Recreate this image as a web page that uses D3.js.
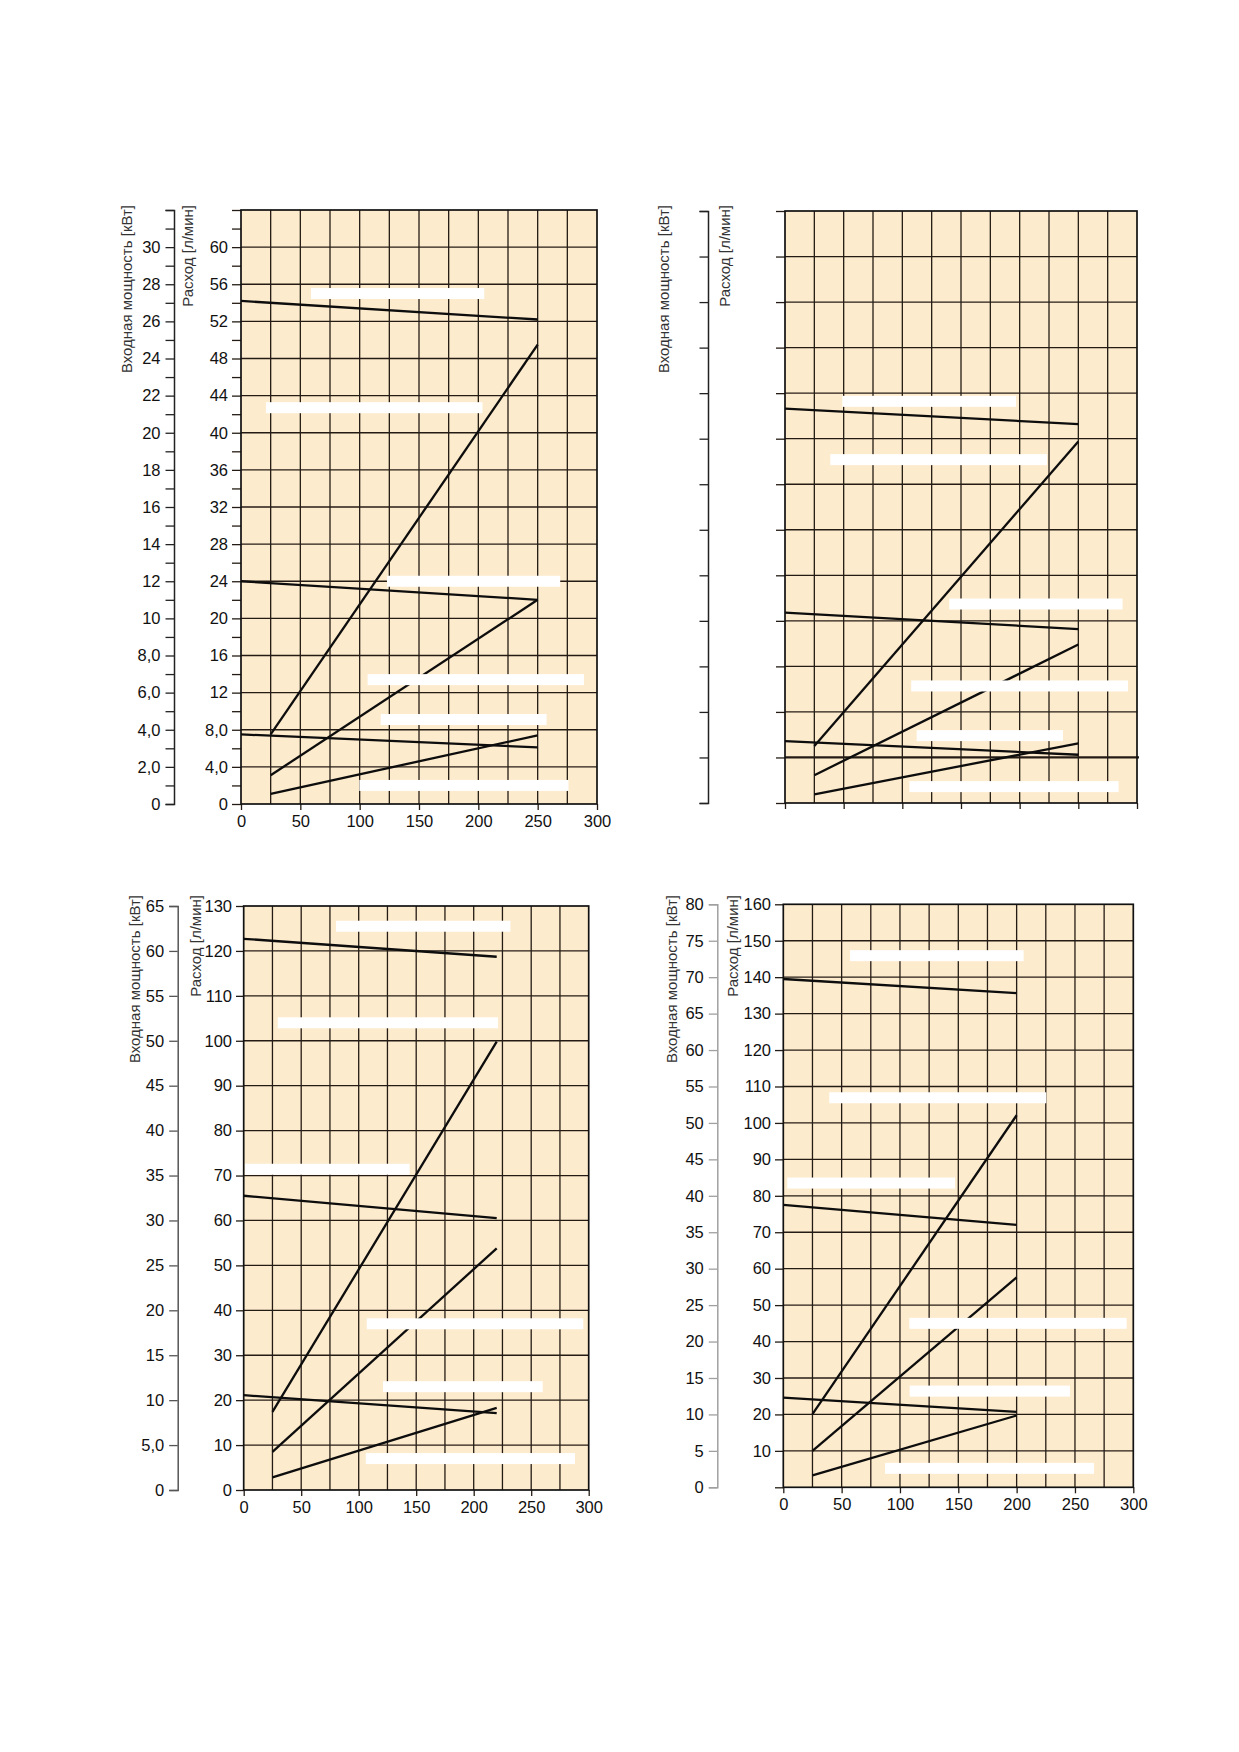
<!DOCTYPE html>
<html>
<head>
<meta charset="utf-8">
<script src="https://cdn.jsdelivr.net/npm/d3@7"></script>
<style>
  html, body { margin: 0; padding: 0; background: #fff; }
  svg { display: block; font-family: "Liberation Sans", Arial, Helvetica, sans-serif; }
</style>
</head>
<body>
<div id="chart"></div>
<script>
// x axis (shared): pressure / speed scale
const xTicks = [0, 50, 100, 150, 200, 250, 300];
const xTickLabels = ["0", "50", "100", "150", "200", "250", "300"];

// panel 1 (top left)
const flowLabelValues1 = [0, 4, 8, 12, 16, 20, 24, 28, 32, 36, 40, 44, 48, 52, 56, 60];
const flowLabels1 = ["0", "4,0", "8,0", "12", "16", "20", "24", "28", "32", "36", "40", "44", "48", "52", "56", "60"];
const powerLabelValues1 = [0, 2, 4, 6, 8, 10, 12, 14, 16, 18, 20, 22, 24, 26, 28, 30];
const powerLabels1 = ["0", "2,0", "4,0", "6,0", "8,0", "10", "12", "14", "16", "18", "20", "22", "24", "26", "28", "30"];
const lines1 = [
  { x: [0, 250], y: [54.2, 52.2] },
  { x: [25, 250], y: [7.5, 49.5] },
  { x: [0, 250], y: [24.0, 22.0] },
  { x: [25, 250], y: [3.1, 22.0] },
  { x: [0, 250], y: [7.5, 6.1] },
  { x: [25, 250], y: [1.1, 7.4] },
];
const masks1 = [
  { x0: 59, x1: 205, y: 55.0 },
  { x0: 21, x1: 203.5, y: 42.7 },
  { x0: 123, x1: 269, y: 24.0 },
  { x0: 106.7, x1: 289, y: 13.4 },
  { x0: 117.7, x1: 257.5, y: 9.1 },
  { x0: 99.7, x1: 276, y: 2.0 },
];

// panel 2 (top right, unlabelled scales)
const lines2 = [
  { x: [0, 250], y: [86.6, 83.2] },
  { x: [25, 250], y: [12.5, 79.4] },
  { x: [0, 250], y: [41.8, 38.2] },
  { x: [25, 250], y: [6.1, 34.8] },
  { x: [0, 250], y: [13.6, 10.6] },
  { x: [25, 250], y: [1.9, 13.1] },
];
const masks2 = [
  { x0: 48.8, x1: 196.9, y: 88.2 },
  { x0: 38.6, x1: 223.3, y: 75.4 },
  { x0: 140, x1: 287.7, y: 43.7 },
  { x0: 107.6, x1: 292.3, y: 25.7 },
  { x0: 112.2, x1: 236.9, y: 14.8 },
  { x0: 106, x1: 284.3, y: 3.6 },
];

// panel 3 (bottom left)
const flowLabelValues3 = [0, 10, 20, 30, 40, 50, 60, 70, 80, 90, 100, 110, 120, 130];
const flowLabels3 = ["0", "10", "20", "30", "40", "50", "60", "70", "80", "90", "100", "110", "120", "130"];
const powerLabelValues3 = [0, 5, 10, 15, 20, 25, 30, 35, 40, 45, 50, 55, 60, 65];
const powerLabels3 = ["0", "5,0", "10", "15", "20", "25", "30", "35", "40", "45", "50", "55", "60", "65"];
const lines3 = [
  { x: [0, 220], y: [122.7, 118.7] },
  { x: [25, 220], y: [17.4, 99.8] },
  { x: [0, 220], y: [65.5, 60.5] },
  { x: [25, 220], y: [8.5, 53.8] },
  { x: [0, 220], y: [21.1, 17.1] },
  { x: [25, 220], y: [2.8, 18.3] },
];
const masks3 = [
  { x0: 80.3, x1: 231.9, y: 125.5 },
  { x0: 29.6, x1: 221.1, y: 104.0 },
  { x0: 1.1, x1: 144.3, y: 71.4 },
  { x0: 107, x1: 295.3, y: 37.0 },
  { x0: 121.1, x1: 260, y: 23.0 },
  { x0: 106.1, x1: 288.1, y: 7.0 },
];

// panel 4 (bottom right)
const flowLabelValues4 = [0, 10, 20, 30, 40, 50, 60, 70, 80, 90, 100, 110, 120, 130, 140, 150, 160];
const flowLabels4 = ["", "10", "20", "30", "40", "50", "60", "70", "80", "90", "100", "110", "120", "130", "140", "150", "160"];
const powerLabelValues4 = [0, 5, 10, 15, 20, 25, 30, 35, 40, 45, 50, 55, 60, 65, 70, 75, 80];
const powerLabels4 = ["0", "5", "10", "15", "20", "25", "30", "35", "40", "45", "50", "55", "60", "65", "70", "75", "80"];
const lines4 = [
  { x: [0, 200], y: [139.5, 135.6] },
  { x: [25, 200], y: [20.1, 102.1] },
  { x: [0, 200], y: [77.5, 72.0] },
  { x: [25, 200], y: [10.0, 57.6] },
  { x: [0, 200], y: [24.6, 20.7] },
  { x: [25, 200], y: [3.3, 19.7] },
];
const masks4 = [
  { x0: 57.2, x1: 206, y: 145.9 },
  { x0: 39.4, x1: 225.4, y: 106.9 },
  { x0: 3.4, x1: 147.2, y: 83.5 },
  { x0: 108, x1: 294.3, y: 45.0 },
  { x0: 108.3, x1: 245.7, y: 26.4 },
  { x0: 87.2, x1: 266.3, y: 5.2 },
];

const powerTitle = "Входная мощность [кВт]";
const flowTitle = "Расход [л/мин]";

const W = 1239, H = 1752;
const FILL = "#fdebcd";
const GRID = "#241c14";

const svg = d3.select("#chart").append("svg")
  .attr("width", W).attr("height", H)
  .attr("viewBox", [0, 0, W, H]);
svg.append("rect").attr("width", W).attr("height", H).attr("fill", "#fff");

function labelFor(values, labels) {
  return (d) => {
    const i = values.indexOf(d);
    return i >= 0 ? labels[i] : "";
  };
}

// strip d3's default axis font so the svg font applies
function styleAxis(sel, color) {
  sel.attr("font-family", null).attr("font-size", null);
  sel.selectAll("line").attr("stroke", color).attr("stroke-width", 1.3);
  sel.selectAll("text").attr("font-size", 16.5).attr("fill", "#111");
}

function drawPanel(p) {
  const g = svg.append("g");
  const x = d3.scaleLinear().domain([0, 300]).range([p.left, p.right]);
  const y = d3.scaleLinear().domain([0, p.yMax]).range([p.bottom, p.top]);
  const power = d3.scaleLinear().domain([0, p.yMax / 2]).range([p.bottom, p.top]);

  g.append("rect")
    .attr("x", p.left).attr("y", p.top)
    .attr("width", p.right - p.left).attr("height", p.bottom - p.top)
    .attr("fill", FILL);

  g.selectAll("line.vgrid")
    .data(d3.range(25, 300, 25))
    .join("line")
    .attr("class", "vgrid")
    .attr("x1", (d) => x(d)).attr("x2", (d) => x(d))
    .attr("y1", p.top).attr("y2", p.bottom)
    .attr("stroke", GRID).attr("stroke-width", 1.3);

  g.selectAll("line.hgrid")
    .data(d3.range(p.gridStep, p.yMax, p.gridStep))
    .join("line")
    .attr("class", "hgrid")
    .attr("x1", p.left).attr("x2", (d) => (d === p.boldGrid ? p.right + 2 : p.right))
    .attr("y1", (d) => y(d)).attr("y2", (d) => y(d))
    .attr("stroke", GRID)
    .attr("stroke-width", (d) => (d === p.boldGrid ? 2.2 : 1.3));

  // x axis ticks and labels
  const xAxis = g.append("g")
    .attr("transform", `translate(0,${p.bottom})`)
    .call(d3.axisBottom(x).tickValues(xTicks).tickSize(6).tickSizeOuter(0).tickPadding(5)
      .tickFormat(p.xLabels ? (d, i) => xTickLabels[i] : () => ""));
  xAxis.select(".domain").remove();
  styleAxis(xAxis, GRID);

  // inner (flow) axis
  const inner = g.append("g")
    .attr("transform", `translate(${p.left},0)`)
    .call(d3.axisLeft(y).tickValues(p.innerTicks).tickSize(p.left - p.innerTickX).tickPadding(4)
      .tickFormat(p.flowLabels ? labelFor(p.flowLabelValues, p.flowLabels) : () => ""));
  inner.select(".domain").remove();
  styleAxis(inner, GRID);

  // frame
  g.append("rect")
    .attr("x", p.left).attr("y", p.top)
    .attr("width", p.right - p.left).attr("height", p.bottom - p.top)
    .attr("fill", "none").attr("stroke", "#111").attr("stroke-width", 1.7);

  // outer (power) axis
  const outer = g.append("g")
    .attr("transform", `translate(${p.outerX},0)`)
    .call(d3.axisLeft(power).tickValues(p.outerTicks).tickSize(8.5).tickSizeOuter(8.5).tickPadding(5)
      .tickFormat(p.powerLabels ? labelFor(p.powerLabelValues, p.powerLabels) : () => ""));
  styleAxis(outer, p.outerColor);
  outer.select(".domain").attr("stroke", p.outerColor).attr("stroke-width", 1.5);

  // curves
  g.selectAll("line.curve")
    .data(p.lines)
    .join("line")
    .attr("class", "curve")
    .attr("x1", (d) => x(d.x[0])).attr("y1", (d) => y(d.y[0]))
    .attr("x2", (d) => x(d.x[1])).attr("y2", (d) => y(d.y[1]))
    .attr("stroke", "#0d0d0d").attr("stroke-width", 2.3);

  // white label strips
  g.selectAll("rect.mask")
    .data(p.masks)
    .join("rect")
    .attr("class", "mask")
    .attr("x", (d) => x(d.x0))
    .attr("width", (d) => x(d.x1) - x(d.x0))
    .attr("y", (d) => y(d.y) - 5.5)
    .attr("height", 11)
    .attr("fill", "#fff");

  // axis titles
  [[p.powerTitleX, powerTitle], [p.flowTitleX, flowTitle]].forEach(([cx, t]) => {
    g.append("text")
      .attr("transform", `translate(${cx},${p.titleTop}) rotate(-90)`)
      .attr("text-anchor", "end")
      .attr("dy", "0.36em")
      .attr("font-size", 15)
      .attr("fill", "#333")
      .text(t);
  });
}

drawPanel({
  left: 241, right: 597, top: 210, bottom: 804, yMax: 64, gridStep: 4,
  innerTickX: 232, innerTicks: d3.range(0, 65, 2),
  flowLabels: flowLabels1, flowLabelValues: flowLabelValues1,
  outerX: 174, outerTicks: d3.range(0, 33, 1), outerColor: "#222",
  powerLabels: powerLabels1, powerLabelValues: powerLabelValues1,
  powerTitleX: 127, flowTitleX: 188, titleTop: 205,
  xLabels: true, lines: lines1, masks: masks1,
});

drawPanel({
  left: 785, right: 1137, top: 211, bottom: 803, yMax: 130, gridStep: 10, boldGrid: 10,
  innerTickX: 776, innerTicks: d3.range(0, 131, 10),
  outerX: 708, outerTicks: d3.range(0, 66, 5), outerColor: "#222",
  powerTitleX: 664, flowTitleX: 725, titleTop: 205,
  xLabels: false, lines: lines2, masks: masks2,
});

drawPanel({
  left: 243.7, right: 588.7, top: 906, bottom: 1490, yMax: 130, gridStep: 10,
  innerTickX: 236, innerTicks: d3.range(0, 131, 10),
  flowLabels: flowLabels3, flowLabelValues: flowLabelValues3,
  outerX: 177.7, outerTicks: d3.range(0, 66, 5), outerColor: "#555",
  powerLabels: powerLabels3, powerLabelValues: powerLabelValues3,
  powerTitleX: 135, flowTitleX: 196, titleTop: 895,
  xLabels: true, lines: lines3, masks: masks3,
});

drawPanel({
  left: 783.3, right: 1133.3, top: 904.3, bottom: 1487.3, yMax: 160, gridStep: 10,
  innerTickX: 775, innerTicks: d3.range(0, 161, 10),
  flowLabels: flowLabels4, flowLabelValues: flowLabelValues4,
  outerX: 717.3, outerTicks: d3.range(0, 81, 5), outerColor: "#a0a0a0",
  powerLabels: powerLabels4, powerLabelValues: powerLabelValues4,
  powerTitleX: 672, flowTitleX: 733, titleTop: 895,
  xLabels: true, lines: lines4, masks: masks4,
});
</script>
</body>
</html>
